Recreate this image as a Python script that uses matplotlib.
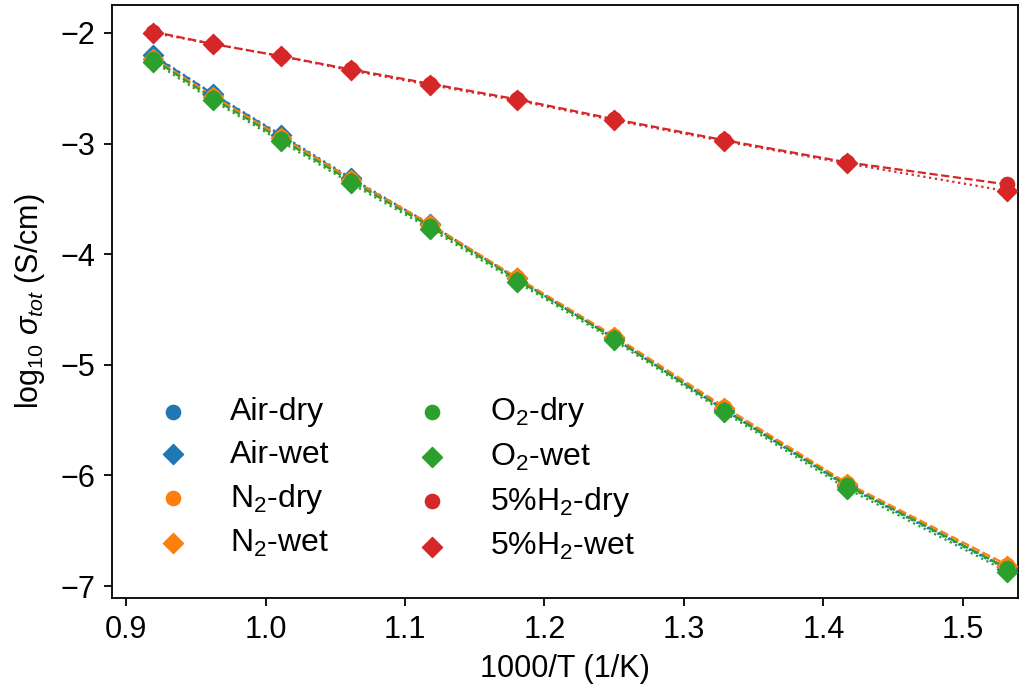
#!/usr/bin/env python3
import matplotlib
matplotlib.use("Agg")
import matplotlib.pyplot as plt
import numpy as np

plt.rcParams['font.family'] = ['Liberation Sans', 'DejaVu Sans']
plt.rcParams['mathtext.fontset'] = 'custom'
plt.rcParams['mathtext.rm'] = 'Liberation Sans'
plt.rcParams['mathtext.it'] = 'Liberation Sans:italic'
plt.rcParams['font.size'] = 22

# 1000/T (1/K)
inv_T = [0.9195, 0.962, 1.011, 1.061, 1.118, 1.180, 1.250, 1.329, 1.417, 1.532]

# log10 sigma_tot (S/cm)
air_dry = [-2.21, -2.55, -2.93, -3.32, -3.73, -4.22, -4.76, -5.40, -6.09, -6.84]
air_wet = [-2.20, -2.55, -2.92, -3.31, -3.73, -4.22, -4.76, -5.41, -6.10, -6.85]
n2_dry = [-2.23, -2.57, -2.94, -3.32, -3.73, -4.21, -4.74, -5.38, -6.07, -6.81]
n2_wet = [-2.24, -2.58, -2.95, -3.33, -3.74, -4.22, -4.75, -5.39, -6.08, -6.82]
o2_dry = [-2.24, -2.59, -2.96, -3.34, -3.75, -4.23, -4.76, -5.41, -6.09, -6.84]
o2_wet = [-2.26, -2.61, -2.98, -3.36, -3.77, -4.25, -4.78, -5.43, -6.12, -6.87]
h2_dry = [-1.99, -2.10, -2.21, -2.33, -2.46, -2.60, -2.78, -2.97, -3.17, -3.37]
h2_wet = [-2.00, -2.10, -2.21, -2.34, -2.47, -2.61, -2.79, -2.98, -3.18, -3.43]

series = [
    ("Air-dry", air_dry, "tab:blue", "o", "--"),
    ("Air-wet", air_wet, "tab:blue", "D", ":"),
    ("N$_2$-dry", n2_dry, "tab:orange", "o", "--"),
    ("N$_2$-wet", n2_wet, "tab:orange", "D", ":"),
    ("O$_2$-dry", o2_dry, "tab:green", "o", "--"),
    ("O$_2$-wet", o2_wet, "tab:green", "D", ":"),
    ("5%H$_2$-dry", h2_dry, "tab:red", "o", "--"),
    ("5%H$_2$-wet", h2_wet, "tab:red", "D", ":"),
]

fig = plt.figure(figsize=(10.19, 6.97), dpi=100)
ax = fig.add_axes([0.110, 0.142, 0.889, 0.851])

for label, vals, color, marker, ls in series:
    ax.plot(inv_T, vals, color=color, linestyle=ls, linewidth=1.6)
    ax.scatter(inv_T, vals, color=color, marker=marker, s=105, label=label, zorder=3)

ax.set_xlim(0.8899, 1.5396)
ax.set_ylim(-7.108, -1.747)
ax.set_xticks([0.9, 1.0, 1.1, 1.2, 1.3, 1.4, 1.5])
ax.set_yticks([-7, -6, -5, -4, -3, -2])
ax.set_xlabel("1000/T (1/K)", labelpad=7)
ax.set_ylabel(r"log$_{10}$ $\sigma_{tot}$ (S/cm)", labelpad=10)

for sp in ax.spines.values():
    sp.set_linewidth(1.3)
ax.tick_params(length=6, width=1.3, pad=6)

ax.legend(ncol=2, frameon=False, loc="upper left", bbox_to_anchor=(0.0, 0.39),
          handlelength=2.0, handletextpad=0.8, columnspacing=2.2, labelspacing=0.38,
          scatterpoints=1, fontsize=23)

fig.savefig("out.png", dpi=100)
